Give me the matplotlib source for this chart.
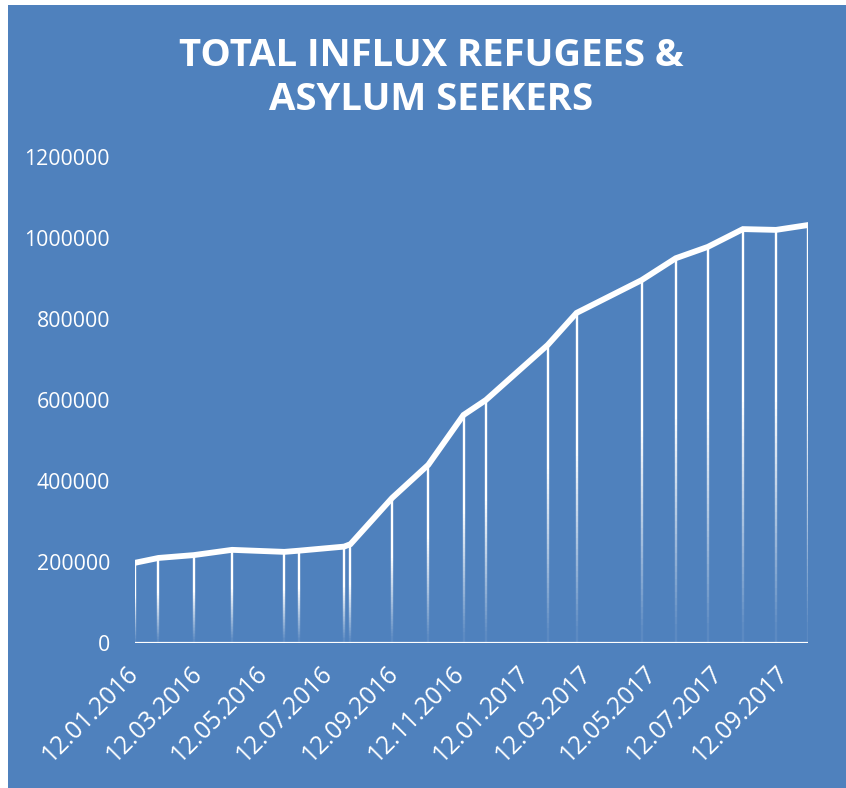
import numpy as np
import pandas as pd
import matplotlib
matplotlib.use("Agg")
import matplotlib.pyplot as plt
import matplotlib.dates as mdates
from matplotlib.collections import LineCollection
from matplotlib.patches import Rectangle

dates = ['2016-01-12', '2016-02-03', '2016-03-07', '2016-04-12', '2016-05-31',
         '2016-06-14', '2016-07-26', '2016-08-01', '2016-09-09', '2016-10-13',
         '2016-11-15', '2016-12-06', '2017-02-02', '2017-03-01', '2017-05-01',
         '2017-06-02', '2017-07-02', '2017-08-04', '2017-09-04', '2017-10-04']
influx = [198000, 210000, 217000, 230000, 225000,
          228000, 238000, 244000, 358000, 440000,
          563000, 600000, 736000, 815000, 896000,
          950000, 978000, 1022000, 1020000, 1032000]
title = 'TOTAL INFLUX REFUGEES &\nASYLUM SEEKERS'

x = pd.to_datetime(dates)
xn = mdates.date2num(x)

blue = '#4F81BD'
plt.rcParams['font.family'] = ['Open Sans', 'DejaVu Sans']

W, H = 846, 788
fig = plt.figure(figsize=(W / 100, H / 100), dpi=100, facecolor='white')
fig.patches.append(Rectangle((8 / W, 0), 1, 1 - 5 / H, transform=fig.transFigure,
                             facecolor=blue, edgecolor='none', zorder=-10))

ax = fig.add_axes([135 / W, (H - 643) / H, (808 - 135) / W, (643 - 157) / H])
ax.set_facecolor('none')

# drop lines with a fade towards the axis
segs, cols = [], []
n = 60
for xi, yi in zip(xn, influx):
    ys = np.linspace(yi, 0, n + 1)
    for k in range(n):
        t = k / n
        a = np.clip((1 - t) / 0.6, 0.08, 1.0)
        segs.append([(xi, ys[k]), (xi, ys[k + 1])])
        cols.append((1, 1, 1, a))
ax.add_collection(LineCollection(segs, colors=cols, linewidths=1.7, zorder=2,
                                 capstyle='butt'))

ax.plot(xn, influx, color='white', linewidth=4.2, solid_joinstyle='miter', zorder=3)
ax.axhline(0, color='white', linewidth=1.6, zorder=4)

ax.set_xlim(xn[0], xn[-1])
ax.set_ylim(0, 1200000)
ax.set_yticks(np.arange(0, 1200001, 200000))
ax.yaxis.set_major_formatter(matplotlib.ticker.FuncFormatter(lambda v, p: f'{int(v)}'))
ax.xaxis.set_major_locator(mdates.MonthLocator(bymonth=[1, 3, 5, 7, 9, 11], bymonthday=12))
ax.xaxis.set_major_formatter(mdates.DateFormatter('%d.%m.%Y'))

for s in ax.spines.values():
    s.set_visible(False)
ax.tick_params(axis='both', length=0, colors='white')
ax.tick_params(axis='y', labelsize=15.3, pad=18)
ax.tick_params(axis='x', labelsize=17.7, pad=19.5)
for lab in ax.get_xticklabels():
    lab.set_rotation(45)
    lab.set_ha('right')
    lab.set_va('center')
    lab.set_rotation_mode('anchor')

fig.text(431 / W, 1 - 78 / H, title, ha='center', va='center', color='white',
         fontsize=27.5, fontweight='bold', linespacing=1.18)

fig.savefig('out.png', dpi=100, facecolor='white')
